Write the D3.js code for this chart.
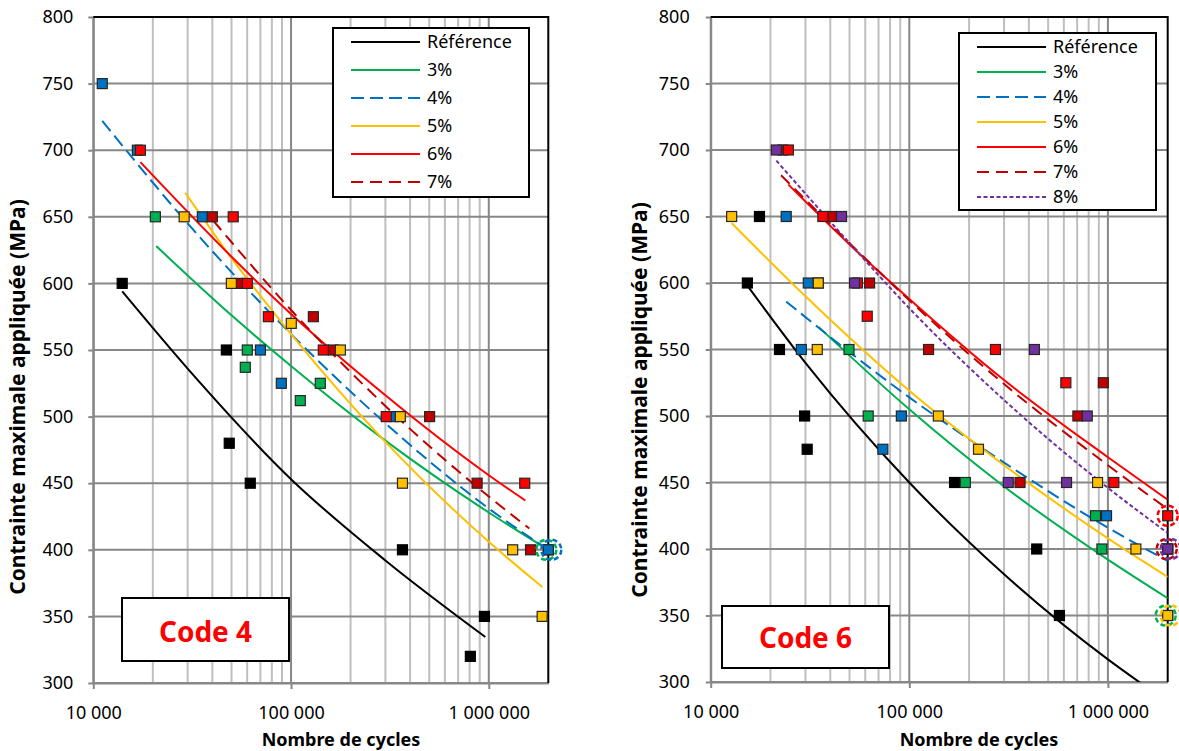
<!DOCTYPE html>
<html><head><meta charset="utf-8">
<script src="https://cdn.jsdelivr.net/npm/d3@7"></script>
<style>body{margin:0;background:#fff}text{font-family:"Noto Sans",sans-serif}</style>
</head><body><svg id="c" width="1179" height="751"></svg>
<script>
// ---------- data ----------
const seriesNames = ["Référence","3%","4%","5%","6%","7%","8%"];
const yTicks = [300,350,400,450,500,550,600,650,700,750,800];
const xTickValues = [10000,100000,1000000];
const xTickLabels = ["10 000","100 000","1 000 000"];
const xTitle = "Nombre de cycles";
const yTitle = "Contrainte maximale appliquée (MPa)";

// Code 4 : markers [cycles, MPa]
const ref4Pts = [[14000,600],[47100,550],[48700,480],[62200,450],[366000,400],[951000,350],[807000,320]];
const g4Pts  = [[20600,650],[60100,550],[58700,537],[140600,525],[111400,512],[2000000,400]];
const b4Pts  = [[11100,750],[16700,700],[35600,650],[70000,550],[89300,525],[329000,500],[2000000,400]];
const y4Pts  = [[28800,650],[49900,600],[100300,570],[177600,550],[357000,500],[366000,450],[1321000,400],[1862000,350]];
const r4Pts  = [[17300,700],[51000,650],[60100,600],[76800,575],[145600,550],[303000,500],[1520000,450]];
const dr4Pts = [[40000,650],[54700,600],[129700,575],[163500,550],[502000,500],[873000,450],[1626000,400]];
// Code 4 : trend curves [cycles, MPa]
const ref4Trend = [[14000,594],[30000,536],[100000,453],[300000,392],[961000,334.5]];
const g4Trend  = [[20800,628],[50000,576],[100000,538],[300000,482],[1000000,428],[2000000,400]];
const b4Trend  = [[11100,722],[30000,645],[100000,562],[300000,495],[1000000,431],[2000000,400]];
const y4Trend  = [[29200,668],[50000,619],[100000,562],[300000,481],[1000000,406],[1866000,372]];
const r4Trend  = [[17300,691],[50000,620],[100000,577],[300000,516],[1000000,456],[1531000,437]];
const dr4Trend = [[40500,647],[100000,580],[300000,508],[1000000,440],[1603000,416]];
const circled4 = [["3%",2000000,400],["4%",2000000,400]];

// Code 6 : markers
const ref6Pts = [[15300,600],[17600,650],[22200,550],[29700,500],[30600,475],[169000,450],[438000,400],[570000,350]];
const g6Pts  = [[34800,600],[49700,550],[62100,500],[191500,450],[866000,425],[933000,400],[2000000,350]];
const b6Pts  = [[24000,650],[31000,600],[28600,550],[91200,500],[73600,475],[984000,425],[2000000,400]];
const y6Pts  = [[12750,650],[34800,600],[34400,550],[140000,500],[223000,475],[887000,450],[1383000,400],[2000000,350]];
const r6Pts  = [[24600,700],[36700,650],[54800,600],[61400,575],[271500,550],[614000,525],[1071000,450],[2000000,425]];
const dr6Pts = [[23100,700],[40600,650],[63100,600],[125000,550],[948000,525],[706000,500],[361000,450],[2000000,400]];
const p6Pts  = [[21400,700],[45600,650],[53000,600],[426500,550],[787000,500],[315000,450],[619000,450],[2000000,400]];
// Code 6 : trend curves
const ref6Trend = [[15300,598],[30000,540],[100000,450],[300000,381],[1000000,317],[1500000,298]];
const g6Trend  = [[34900,567],[100000,505],[300000,447],[1000000,392],[2000000,363]];
const b6Trend  = [[24000,586],[50000,548],[100000,514],[300000,465],[1000000,416],[2000000,391]];
const y6Trend  = [[12750,645],[30000,590],[100000,519],[300000,463],[1000000,408],[2000000,379]];
const r6Trend  = [[24600,674],[50000,629],[100000,588],[300000,527],[1000000,469],[2000000,437]];
const dr6Trend = [[22600,681],[50000,630],[100000,587],[300000,524],[1000000,463],[2000000,430]];
const p6Trend  = [[21400,692],[50000,630],[100000,581],[300000,512],[1000000,446],[2000000,412]];
const circled6 = [["6%",2000000,425],["7%",2000000,400],["8%",2000000,400],["3%",2000000,350],["5%",2000000,350]];

// ---------- styles ----------
const style = {
  "Référence": {c:"#000000", dash:null},
  "3%": {c:"#00B050", dash:null},
  "4%": {c:"#0070C0", dash:"13,6"},
  "5%": {c:"#FFC000", dash:null},
  "6%": {c:"#FF0000", dash:null},
  "7%": {c:"#C00000", dash:"12,7"},
  "8%": {c:"#7030A0", dash:"4,2.5"}
};
const circleDx = {"3%":-2,"4%":3,"5%":3,"6%":0,"7%":-1,"8%":3};

const svg = d3.select("#c");
svg.append("rect").attr("width",1179).attr("height",751).attr("fill","#fff");

function chart(o){
  const x = d3.scaleLog().domain([10000,2000000]).range([o.left,o.right]);
  const y = d3.scaleLinear().domain([300,800]).range([o.bottom,o.top]);
  const g = svg.append("g");
  const clipId = "clip"+o.id;
  g.append("clipPath").attr("id",clipId).append("rect")
    .attr("x",o.left).attr("y",o.top).attr("width",o.right-o.left).attr("height",o.bottom-o.top);

  // minor vertical grid
  const minor = x.ticks().filter(v => !xTickValues.includes(v) && v<2000000);
  g.selectAll(null).data(minor).join("line")
    .attr("x1",d=>x(d)).attr("x2",d=>x(d)).attr("y1",o.top).attr("y2",o.bottom)
    .attr("stroke","#BFBFBF").attr("stroke-width",2);
  // horizontal grid
  g.selectAll(null).data(yTicks).join("line")
    .attr("x1",o.left).attr("x2",o.right).attr("y1",d=>y(d)).attr("y2",d=>y(d))
    .attr("stroke","#878787").attr("stroke-width",2);
  // major vertical grid
  g.selectAll(null).data(xTickValues).join("line")
    .attr("x1",d=>x(d)).attr("x2",d=>x(d)).attr("y1",o.top).attr("y2",o.bottom)
    .attr("stroke","#878787").attr("stroke-width",2);

  // axes
  const ya = g.append("g").attr("transform",`translate(${o.left},0)`)
    .call(d3.axisLeft(y).tickValues(yTicks).tickSize(5).tickSizeOuter(0).tickPadding(o.yPad));
  const xa = g.append("g").attr("transform",`translate(0,${o.bottom})`)
    .call(d3.axisBottom(x).tickValues(xTickValues).tickFormat((d,i)=>xTickLabels[i]).tickSize(6).tickSizeOuter(0).tickPadding(17));
  [ya,xa].forEach(a=>{
    a.select(".domain").attr("stroke","#878787").attr("stroke-width",2);
    a.selectAll(".tick line").attr("stroke","#878787").attr("stroke-width",2);
    a.selectAll("text").attr("font-family","Noto Sans").attr("font-size",18).attr("fill","#000");
  });
  // top / right border
  g.append("path").attr("d",`M${o.left},${o.top}H${o.right}V${o.bottom}`)
    .attr("fill","none").attr("stroke","#000").attr("stroke-width",2);

  // titles
  g.append("text").attr("x",o.xTitleX).attr("y",746).attr("text-anchor","middle")
    .attr("font-weight","bold").attr("font-size",18).text(xTitle);
  g.append("text").attr("transform",`translate(${o.yTitleX},${o.yTitleY}) rotate(-90)`)
    .attr("text-anchor","middle").attr("font-weight","bold").attr("font-size",21).text(yTitle);

  // trend lines
  const line = d3.line().x(d=>x(d[0])).y(d=>y(d[1])).curve(d3.curveMonotoneX);
  const lg = g.append("g").attr("clip-path",`url(#${clipId})`);
  o.series.forEach(s=>{
    lg.append("path").attr("d",line(s.trend)).attr("fill","none")
      .attr("stroke",style[s.name].c).attr("stroke-width",2)
      .attr("stroke-dasharray",style[s.name].dash);
  });
  // markers
  o.order.forEach(name=>{
    const s = o.series.find(q=>q.name===name);
    const isRef = name==="Référence";
    g.selectAll(null).data(s.pts).join("rect")
      .attr("x",d=>x(d[0])-5).attr("y",d=>y(d[1])-5).attr("width",10).attr("height",10)
      .attr("fill",style[name].c).attr("stroke",isRef?"#000":"#262626").attr("stroke-width",1.2);
  });
  // circles
  g.selectAll(null).data(o.circled).join("circle")
    .attr("cx",d=>x(d[1])+circleDx[d[0]]).attr("cy",d=>y(d[2])).attr("r",10)
    .attr("fill","none").attr("stroke",d=>style[d[0]].c).attr("stroke-width",2.5)
    .attr("stroke-dasharray","5,3");

  // legend
  const L = o.legend;
  g.append("rect").attr("x",L.x).attr("y",L.y).attr("width",L.w).attr("height",L.h)
    .attr("fill","#fff").attr("stroke","#000").attr("stroke-width",2);
  o.legendNames.forEach((n,i)=>{
    const yy = L.row0 + i*L.step;
    g.append("line").attr("x1",L.lx1).attr("x2",L.lx2).attr("y1",yy).attr("y2",yy)
      .attr("stroke",style[n].c).attr("stroke-width",2).attr("stroke-dasharray",style[n].dash);
    g.append("text").attr("x",L.tx).attr("y",yy).attr("dy","0.35em").attr("font-size",18).text(n);
  });
  // code box
  const C = o.code;
  g.append("rect").attr("x",C.x).attr("y",C.y).attr("width",C.w).attr("height",C.h)
    .attr("fill","#fff").attr("stroke","#000").attr("stroke-width",2);
  g.append("text").attr("x",C.x+C.w/2).attr("y",C.base).attr("text-anchor","middle")
    .attr("font-weight","bold").attr("font-size",28).attr("fill","#FF0000").text(C.label);
}

chart({
  id:4, left:93.3, right:548.3, top:17, bottom:683, yPad:15, yTitleX:25, yTitleY:397, xTitleX:341,
  series:[
    {name:"Référence",pts:ref4Pts,trend:ref4Trend},
    {name:"3%",pts:g4Pts,trend:g4Trend},
    {name:"4%",pts:b4Pts,trend:b4Trend},
    {name:"5%",pts:y4Pts,trend:y4Trend},
    {name:"6%",pts:r4Pts,trend:r4Trend},
    {name:"7%",pts:dr4Pts,trend:dr4Trend}
  ],
  order:["Référence","3%","4%","7%","5%","6%"],
  circled:circled4,
  legendNames:seriesNames.slice(0,6),
  legend:{x:333,y:28,w:196,h:169,row0:42,step:28,lx1:351,lx2:420,tx:427},
  code:{x:122,y:598,w:167,h:63,base:642,label:"Code 4"}
});
chart({
  id:6, left:710.7, right:1167.7, top:17, bottom:682, yPad:16, yTitleX:647, yTitleY:400, xTitleX:979,
  series:[
    {name:"Référence",pts:ref6Pts,trend:ref6Trend},
    {name:"3%",pts:g6Pts,trend:g6Trend},
    {name:"4%",pts:b6Pts,trend:b6Trend},
    {name:"5%",pts:y6Pts,trend:y6Trend},
    {name:"6%",pts:r6Pts,trend:r6Trend},
    {name:"7%",pts:dr6Pts,trend:dr6Trend},
    {name:"8%",pts:p6Pts,trend:p6Trend}
  ],
  order:["Référence","3%","4%","7%","5%","6%","8%"],
  circled:circled6,
  legendNames:seriesNames,
  legend:{x:959,y:33,w:197,h:177,row0:47,step:25,lx1:977,lx2:1046,tx:1053},
  code:{x:722,y:606,w:167,h:62,base:648,label:"Code 6"}
});
</script></body></html>
